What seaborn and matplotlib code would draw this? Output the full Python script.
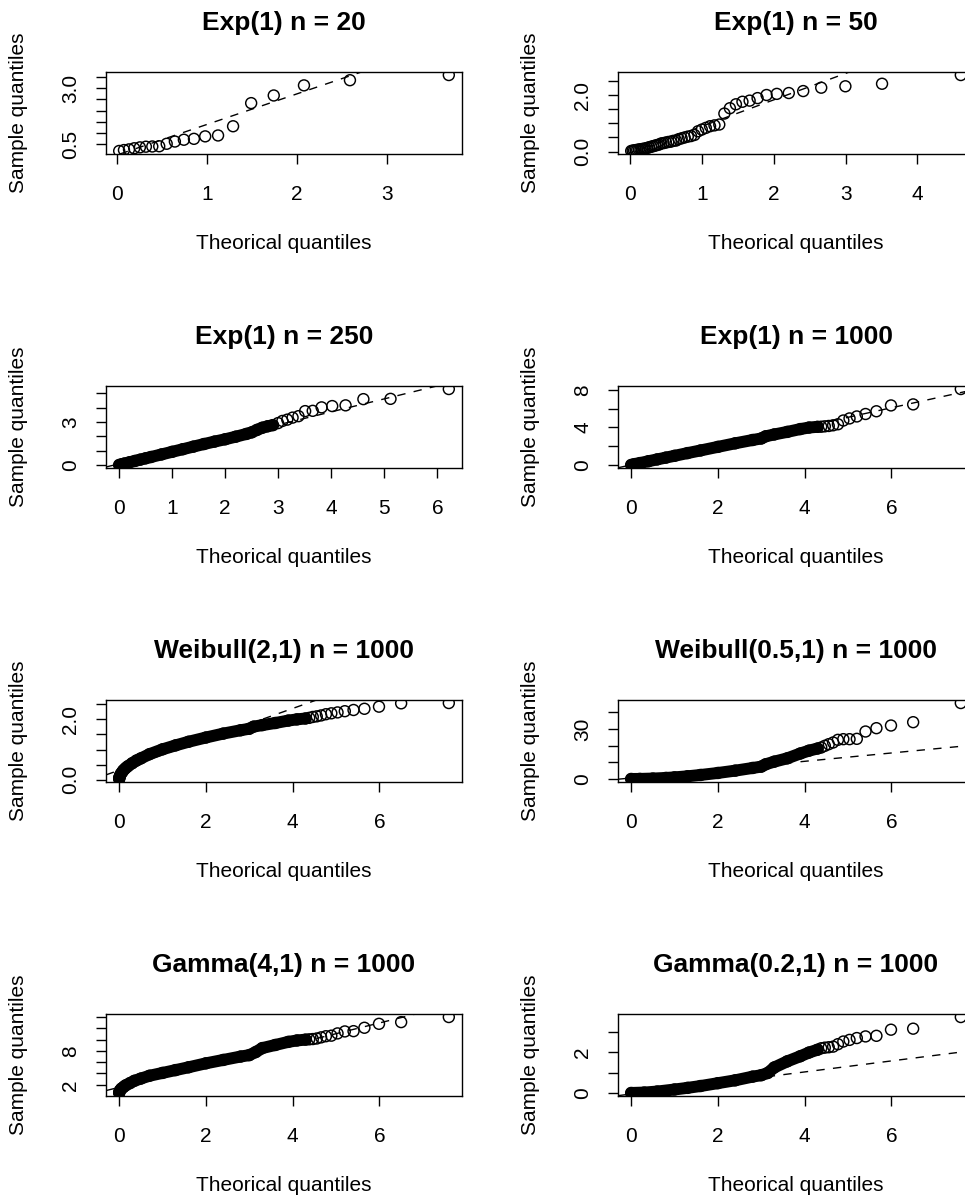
import numpy as np
import matplotlib
matplotlib.use("Agg")
import matplotlib.pyplot as plt
import seaborn as sns

# ---------------- data ----------------
titles = ["Exp(1) n = 20", "Exp(1) n = 50", "Exp(1) n = 250", "Exp(1) n = 1000",
          "Weibull(2,1) n = 1000", "Weibull(0.5,1) n = 1000",
          "Gamma(4,1) n = 1000", "Gamma(0.2,1) n = 1000"]

# panel 1 : Exp(1) n = 20
p1_x = [0.025, 0.078, 0.134, 0.192, 0.255, 0.322, 0.393, 0.470, 0.553, 0.644,
        0.744, 0.856, 0.981, 1.124, 1.291, 1.492, 1.743, 2.079, 2.590, 3.689]
p1_y = [0.20, 0.24, 0.27, 0.32, 0.36, 0.39, 0.40, 0.41, 0.52, 0.62,
        0.70, 0.74, 0.85, 0.89, 1.30, 2.33, 2.67, 3.12, 3.35, 3.58]

# panel 2 : Exp(1) n = 50
p2_x = [0.010, 0.030, 0.051, 0.073, 0.094, 0.117, 0.139, 0.163, 0.186, 0.211,
        0.236, 0.261, 0.288, 0.315, 0.342, 0.371, 0.400, 0.431, 0.462, 0.494,
        0.528, 0.562, 0.598, 0.635, 0.673, 0.713, 0.755, 0.799, 0.844, 0.892,
        0.942, 0.994, 1.050, 1.109, 1.171, 1.238, 1.309, 1.386, 1.470, 1.561,
        1.661, 1.772, 1.897, 2.040, 2.207, 2.408, 2.659, 2.996, 3.507, 4.605]
p2_y = [0.02, 0.03, 0.04, 0.05, 0.06, 0.07, 0.08, 0.09, 0.10, 0.11,
        0.13, 0.15, 0.17, 0.19, 0.21, 0.23, 0.25, 0.29, 0.30, 0.32,
        0.34, 0.35, 0.38, 0.39, 0.44, 0.47, 0.50, 0.53, 0.55, 0.59,
        0.72, 0.78, 0.84, 0.90, 0.93, 0.96, 1.35, 1.54, 1.68, 1.77,
        1.81, 1.90, 2.01, 2.05, 2.08, 2.15, 2.27, 2.32, 2.41, 2.72]

# panel 3 : Exp(1) n = 250  (dense body + individual upper tail)
p3_body_x = [0.002, 0.05, 0.1, 0.2, 0.3, 0.4, 0.5, 0.6, 0.8, 1.0, 1.2, 1.4,
             1.6, 1.8, 2.0, 2.2, 2.4, 2.5, 2.6, 2.7, 2.8, 2.9]
p3_body_y = [0.02, 0.07, 0.12, 0.21, 0.30, 0.39, 0.48, 0.57, 0.75, 0.93, 1.11, 1.29,
             1.47, 1.64, 1.80, 1.98, 2.17, 2.28, 2.45, 2.60, 2.70, 2.78]
p3_tail_x = [2.996, 3.079, 3.170, 3.270, 3.381, 3.507, 3.650, 3.817, 4.017, 4.269,
             4.605, 5.116, 6.215]
p3_tail_y = [2.92, 3.07, 3.16, 3.30, 3.40, 3.75, 3.77, 4.01, 4.10, 4.15,
             4.58, 4.60, 5.28]

# upper-tail theoretical quantiles shared by the n = 1000 panels
tail1000_x = [4.382, 4.465, 4.556, 4.656, 4.767, 4.892, 5.035, 5.203, 5.404,
              5.655, 5.991, 6.502, 7.601]

# panel 4 : Exp(1) n = 1000
p4_body_x = [0.0005, 0.05, 0.1, 0.2, 0.4, 0.6, 0.8, 1.0, 1.3, 1.6, 2.0, 2.4,
             2.8, 3.0, 3.1, 3.3, 3.6, 3.9, 4.1, 4.3]
p4_body_y = [0.01, 0.06, 0.11, 0.21, 0.41, 0.60, 0.79, 0.98, 1.27, 1.55, 1.93, 2.31,
             2.66, 2.82, 3.05, 3.25, 3.52, 3.82, 3.98, 4.06]
p4_tail_y = [4.07, 4.11, 4.15, 4.22, 4.33, 4.73, 4.95, 5.16, 5.42, 5.71, 6.33, 6.44, 8.07]

# panel 5 : Weibull(2,1) n = 1000
p5_body_x = [0.0005, 0.003, 0.01, 0.02, 0.04, 0.07, 0.1, 0.15, 0.2, 0.3, 0.4, 0.5,
             0.7, 1.0, 1.3, 1.6, 2.0, 2.4, 2.8, 3.0, 3.1, 3.3, 3.6, 3.9, 4.1, 4.3]
p5_body_y = [0.03, 0.06, 0.10, 0.14, 0.20, 0.26, 0.32, 0.39, 0.45, 0.55, 0.64, 0.71,
             0.85, 1.01, 1.14, 1.26, 1.40, 1.53, 1.64, 1.69, 1.76, 1.81, 1.88, 1.96, 2.00, 2.03]
p5_tail_y = [2.05, 2.08, 2.10, 2.13, 2.17, 2.20, 2.23, 2.27, 2.31, 2.35, 2.42, 2.53, 2.54]

# panel 6 : Weibull(0.5,1) n = 1000
p6_body_x = [0.0005, 0.2, 0.5, 0.8, 1.0, 1.3, 1.6, 2.0, 2.4, 2.8, 3.0, 3.1,
             3.3, 3.6, 3.9, 4.1, 4.3]
p6_body_y = [0.0, 0.04, 0.25, 0.62, 0.96, 1.61, 2.40, 3.60, 5.00, 6.60, 7.40, 8.80,
             10.4, 12.4, 15.3, 17.0, 18.3]
p6_tail_y = [18.9, 19.9, 20.9, 21.9, 23.5, 23.9, 23.9, 24.1, 28.5, 30.5, 32.1, 34.1, 45.6]

# panel 7 : Gamma(4,1) n = 1000
p7_body_x = [0.0005, 0.005, 0.02, 0.05, 0.1, 0.15, 0.25, 0.35, 0.5, 0.7, 1.0, 1.3,
             1.6, 2.0, 2.4, 2.8, 3.0, 3.15, 3.3, 3.6, 3.9, 4.1, 4.3]
p7_body_y = [0.55, 0.75, 1.0, 1.3, 1.6, 1.9, 2.3, 2.7, 3.1, 3.6, 4.1, 4.6,
             5.1, 5.8, 6.4, 7.0, 7.25, 7.8, 8.5, 9.05, 9.6, 9.85, 10.0]
p7_tail_y = [10.05, 10.1, 10.2, 10.4, 10.6, 10.7, 11.1, 11.45, 11.5, 12.1, 12.8, 13.1, 14.0]

# panel 8 : Gamma(0.2,1) n = 1000
p8_body_x = [0.0005, 0.3, 0.6, 1.0, 1.3, 1.6, 2.0, 2.4, 2.8, 3.0, 3.15, 3.3,
             3.6, 3.9, 4.1, 4.3]
p8_body_y = [0.0, 0.02, 0.07, 0.17, 0.25, 0.34, 0.48, 0.62, 0.80, 0.87, 0.98, 1.25,
             1.55, 1.80, 1.98, 2.12]
p8_tail_y = [2.19, 2.22, 2.24, 2.27, 2.39, 2.52, 2.60, 2.69, 2.77, 2.80, 3.10, 3.15, 3.72]

# qqline (intercept, slope)
qq_intercept = [0.02, -0.04, 0.10, 0.02, 0.32, 0.6, 1.55, -0.05]
qq_slope = [1.36, 0.94, 0.90, 1.01, 0.51, 2.5, 1.9, 0.27]

# ticks
x_ticks = [[0, 1, 2, 3], [0, 1, 2, 3, 4], [0, 1, 2, 3, 4, 5, 6],
           [0, 2, 4, 6], [0, 2, 4, 6], [0, 2, 4, 6], [0, 2, 4, 6], [0, 2, 4, 6]]
y_ticks = [[0.5, 1.0, 1.5, 2.0, 2.5, 3.0, 3.5],
           [0.0, 0.5, 1.0, 1.5, 2.0, 2.5],
           [0, 1, 2, 3, 4, 5],
           [0, 2, 4, 6, 8],
           [0.0, 0.5, 1.0, 1.5, 2.0, 2.5],
           [0, 10, 20, 30, 40],
           [2, 4, 6, 8, 10, 12, 14],
           [0, 1, 2, 3]]
y_ticklabels = [["0.5", "", "", "", "", "3.0", ""],
                ["0.0", "", "", "", "2.0", ""],
                ["0", "", "", "3", "", ""],
                ["0", "", "4", "", "8"],
                ["0.0", "", "", "", "2.0", ""],
                ["0", "", "", "30", ""],
                ["2", "", "", "8", "", "", ""],
                ["0", "", "2", ""]]

panels = [
    ([], [], p1_x, p1_y),
    ([], [], p2_x, p2_y),
    (p3_body_x, p3_body_y, p3_tail_x, p3_tail_y),
    (p4_body_x, p4_body_y, tail1000_x, p4_tail_y),
    (p5_body_x, p5_body_y, tail1000_x, p5_tail_y),
    (p6_body_x, p6_body_y, tail1000_x, p6_tail_y),
    (p7_body_x, p7_body_y, tail1000_x, p7_tail_y),
    (p8_body_x, p8_body_y, tail1000_x, p8_tail_y),
]

# ---------------- style ----------------
sns.set_theme(style="white")
plt.rcParams["font.family"] = ["Liberation Sans", "DejaVu Sans"]
plt.rcParams.update({
    "axes.edgecolor": "black", "axes.linewidth": 1.0,
    "text.color": "black", "axes.labelcolor": "black",
    "xtick.color": "black", "ytick.color": "black",
    "xtick.bottom": True, "ytick.left": True,
    "xtick.direction": "out", "ytick.direction": "out",
    "xtick.major.size": 7.5, "ytick.major.size": 7.5,
    "xtick.major.width": 1.0, "ytick.major.width": 1.0,
})

W, H = 965, 1198
fig = plt.figure(figsize=(W / 100, H / 100), dpi=100)
fig.patch.set_facecolor("white")

col_left = [106, 618]
row_top = [72, 386, 700, 1014]
box_w, box_h = 356, 82


def rlim(v):
    lo, hi = min(v), max(v)
    r = hi - lo
    return lo - 0.04 * r, hi + 0.04 * r


for k, (bx, by, tx, ty) in enumerate(panels):
    r, c = divmod(k, 2)
    L, T = col_left[c], row_top[r]
    ax = fig.add_axes([L / W, 1 - (T + box_h) / H, box_w / W, box_h / H])
    ax.set_facecolor("white")

    allx = list(bx) + list(tx)
    ally = list(by) + list(ty)
    if len(bx):
        sns.lineplot(x=bx, y=by, ax=ax, color="black", linewidth=8.6,
                     sort=False, estimator=None, solid_capstyle="round",
                     solid_joinstyle="round", zorder=2)
    sns.scatterplot(x=allx, y=ally, ax=ax, s=62, facecolors="none",
                    edgecolor="black", linewidth=1.05, zorder=3, legend=False)
    ax.axline((0, qq_intercept[k]), slope=qq_slope[k], color="black",
              linewidth=1.0, linestyle=(0, (6, 6)), zorder=4)

    ax.set_xlim(*rlim(allx))
    ax.set_ylim(*rlim(ally))

    ax.set_xticks(x_ticks[k], [str(t) for t in x_ticks[k]])
    ax.set_yticks(y_ticks[k], y_ticklabels[k], rotation=90,
                  rotation_mode="anchor", ha="center", va="baseline")
    ax.tick_params(axis="x", labelsize=15, pad=15)
    ax.tick_params(axis="y", labelsize=15, pad=14)

    for s in ax.spines.values():
        s.set_visible(True)
        s.set_color("black")
        s.set_linewidth(1.0)

    ax.set_title(titles[k], fontsize=19, fontweight="bold", pad=30)
    ax.set_xlabel("Theorical quantiles", fontsize=15)
    ax.xaxis.label.set_va("baseline")
    ax.xaxis.set_label_coords(0.5, -95 / box_h)
    ax.set_ylabel("Sample quantiles", fontsize=15)
    ax.yaxis.label.set_rotation_mode("anchor")
    ax.yaxis.label.set_va("baseline")
    ax.yaxis.label.set_ha("center")
    ax.yaxis.set_label_coords(-81.5 / box_w, 0.5)

fig.savefig("out.png", dpi=100, facecolor="white")
